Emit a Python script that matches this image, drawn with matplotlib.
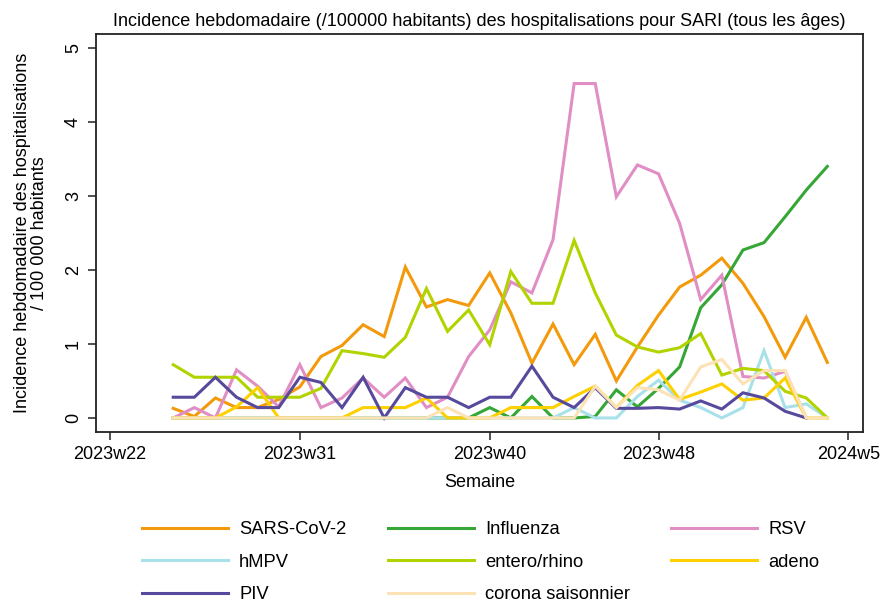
import numpy as np
import matplotlib
matplotlib.use('Agg')
import matplotlib.pyplot as plt

plt.rcParams['font.family'] = ['Liberation Sans', 'DejaVu Sans']

# weeks 2023w25 .. 2024w4, as index from 2023w22
weeks = np.arange(3, 35)
tick_pos = [0, 9, 18, 26, 35]
tick_labels = ['2023w22', '2023w31', '2023w40', '2023w48', '2024w5']

nan = np.nan
sars = [0.13, 0.02, 0.27, 0.14, 0.14, 0.25, 0.42, 0.83, 0.98, 1.26, 1.10, 2.04, 1.50, 1.60, 1.52, 1.96,
        1.42, 0.74, 1.27, 0.72, 1.13, 0.50, 0.96, 1.39, 1.77, 1.93, 2.16, 1.82, 1.37, 0.82, 1.36, 0.75]
flu = [0, 0, 0, 0, 0, 0, 0, 0, 0, 0, 0, 0, 0, 0, 0, 0.14,
       0, 0.29, 0, 0, 0.02, 0.38, 0.15, 0.40, 0.69, 1.49, 1.80, 2.27, 2.37, 2.72, 3.08, 3.40]
rsv = [0, 0.14, 0, 0.65, 0.43, 0.15, 0.72, 0.14, 0.27, 0.54, 0.28, 0.54, 0.14, 0.28, 0.83, 1.19,
       1.84, 1.69, 2.41, 4.52, 4.52, 2.99, 3.42, 3.30, 2.63, 1.60, 1.93, 0.56, 0.54, 0.63, 0, nan]
hmpv = [0, 0, 0, 0, 0, 0, 0, 0, 0, 0, 0, 0, 0, 0, 0, 0,
        0, 0, 0, 0.14, 0, 0, 0.29, 0.51, 0.24, 0.14, 0, 0.14, 0.91, 0.14, 0.19, 0]
entero = [0.72, 0.55, 0.55, 0.55, 0.28, 0.28, 0.28, 0.40, 0.91, 0.87, 0.82, 1.09, 1.75, 1.17, 1.46, 0.99,
          1.98, 1.55, 1.55, 2.40, 1.69, 1.12, 0.96, 0.89, 0.95, 1.14, 0.58, 0.67, 0.64, 0.36, 0.27, 0]
adeno = [0, 0, 0, 0.15, 0.41, 0, 0, 0, 0, 0.14, 0.14, 0.14, 0.27, 0, 0, 0,
         0.14, 0.14, 0.14, 0.29, 0.43, 0.14, 0.44, 0.64, 0.25, 0.35, 0.46, 0.24, 0.27, 0.54, 0, 0]
piv = [0.28, 0.28, 0.55, 0.28, 0.14, 0.14, 0.55, 0.48, 0.14, 0.55, 0, 0.41, 0.28, 0.28, 0.14, 0.28,
       0.28, 0.70, 0.28, 0.14, 0.41, 0.13, 0.13, 0.14, 0.12, 0.23, 0.12, 0.34, 0.27, 0.09, 0, nan]
corona = [0, 0, 0, 0, 0, 0, 0, 0, 0, 0, 0, 0, 0, 0.14, 0, 0,
          0, 0, 0, 0, 0.43, 0.14, 0.41, 0.38, 0.24, 0.69, 0.79, 0.46, 0.64, 0.64, 0, 0]

series = [('SARS-CoV-2', sars, '#f39a0c'),
          ('Influenza', flu, '#36a637'),
          ('RSV', rsv, '#e08ec3'),
          ('hMPV', hmpv, '#a8e1e9'),
          ('entero/rhino', entero, '#b3d300'),
          ('adeno', adeno, '#fdd000'),
          ('PIV', piv, '#574a9c'),
          ('corona saisonnier', corona, '#fde2b6')]

fig = plt.figure(figsize=(8.83, 6.03), dpi=100)
ax = fig.add_axes([96/883, 1-432/603, 767/883, 398/603])

lines = {}
for name, vals, col in series:
    l, = ax.plot(weeks, vals, color=col, lw=2.2, label=name, solid_joinstyle='miter')
    lines[name] = l

ax.set_xlim(-0.66, 35.69)
ax.set_ylim(-0.19, 5.19)
ax.set_xticks(tick_pos)
ax.set_xticklabels(tick_labels, fontsize=13)
ax.set_yticks(range(6))
ax.set_yticklabels([str(i) for i in range(6)], fontsize=13, rotation=90, va='center')
ax.tick_params(direction='out', length=6, width=1.2, color='#333333', pad=4)
for s in ax.spines.values():
    s.set_linewidth(1.3)
    s.set_color('#222222')

ax.set_title('Incidence hebdomadaire (/100000 habitants) des hospitalisations pour SARI (tous les âges)',
             fontsize=13, pad=6)
ax.set_xlabel('Semaine', fontsize=13)
ax.xaxis.set_label_coords(0.5, -0.105)
ax.set_ylabel('Incidence hebdomadaire des hospitalisations\n/ 100 000 habitants', fontsize=13,
              linespacing=1.05)
ax.yaxis.set_label_coords(-0.062, 0.5)

order = ['SARS-CoV-2', 'hMPV', 'PIV', 'Influenza', 'entero/rhino', 'corona saisonnier', 'RSV', 'adeno']
fig.legend([lines[n] for n in order], order, ncol=3, frameon=False, fontsize=13.2,
           loc='upper left', bbox_to_anchor=(142/883, 1-521/603), borderpad=0, borderaxespad=0,
           handlelength=4.7, handletextpad=0.6, columnspacing=2.25, labelspacing=0.85)

fig.savefig('out.png', dpi=100)
